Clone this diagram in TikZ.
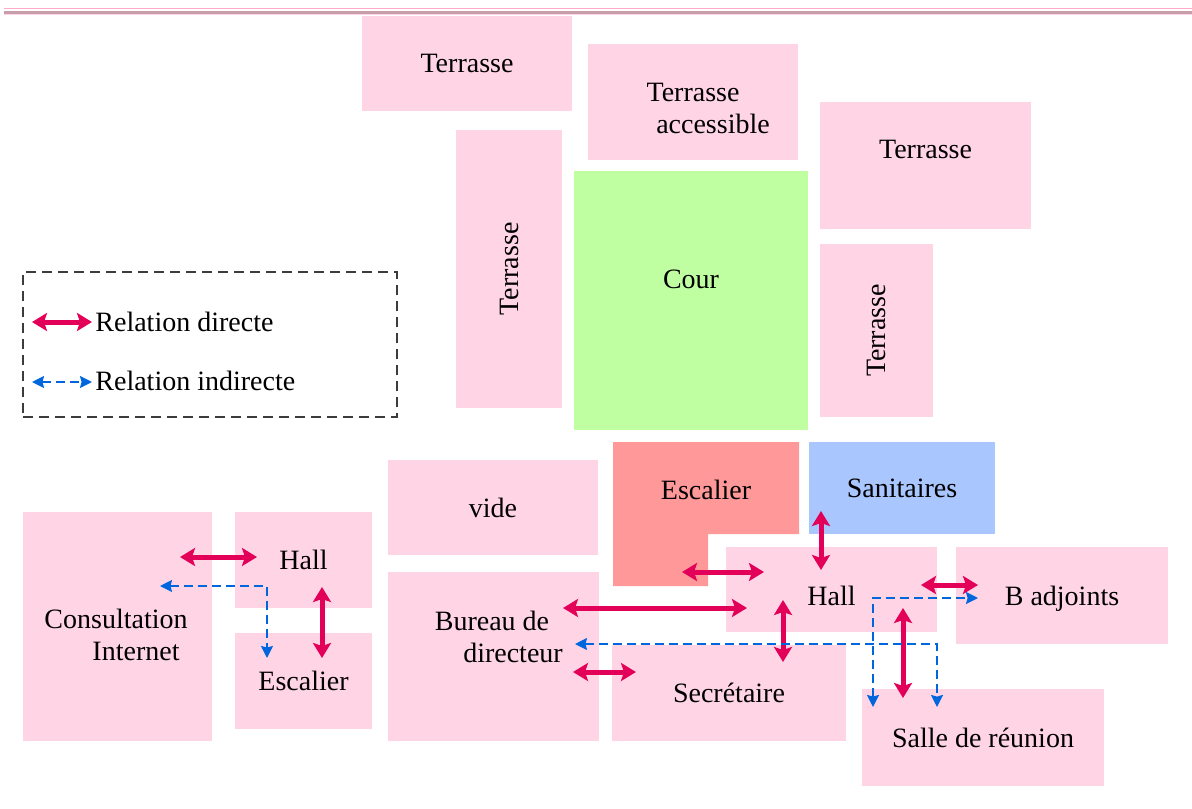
\documentclass[tikz,border=0pt]{standalone}
\usepackage{fontspec}
\setmainfont{Liberation Serif}
\usetikzlibrary{arrows.meta}
\definecolor{roompink}{RGB}{255,213,230}
\definecolor{stairred}{RGB}{255,153,153}
\definecolor{wcblue}{RGB}{169,198,255}
\definecolor{courgreen}{RGB}{191,255,161}
\definecolor{linkred}{RGB}{226,0,88}
\definecolor{linkblue}{RGB}{0,102,221}
\definecolor{rulepink}{RGB}{255,170,200}
\definecolor{rulegray}{RGB}{200,158,170}
\definecolor{legendgray}{RGB}{60,60,60}

\begin{document}
\begin{tikzpicture}[x=0.5pt, y=-0.5pt,
    font=\fontsize{14}{16}\selectfont,
    room/.style={rectangle, fill=roompink, inner sep=0pt, align=center},
    direct/.style={{Stealth[length=7.5pt,width=9pt,inset=1.5pt]}-{Stealth[length=7.5pt,width=9pt,inset=1.5pt]},
                   line width=2.5pt, linkred},
    indirect/.style={{Stealth[length=6pt,width=6pt,inset=0.8pt]}-{Stealth[length=6pt,width=6pt,inset=0.8pt]},
                     line width=1pt, linkblue, dash pattern=on 4.5pt off 2.5pt}
  ]
  \useasboundingbox (0,0) rectangle (1192,808);

  % page rule
  \draw[rulepink, line width=0.5pt] (4,8.5) -- (1192,8.5);
  \draw[rulegray, line width=1.65pt] (4,12.7) -- (1192,12.7);
  \draw[roompink, line width=0.5pt] (4,14.8) -- (1192,14.8);

  % upper floor part
  \node[room, minimum width=105pt, minimum height=47.5pt] (terr1) at (467,63.5) {Terrasse};
  \node[room, minimum width=105pt, minimum height=58pt,
        label={[align=center, yshift=-3pt]center:Terrasse\\\hspace*{20pt}accessible}] (terracc) at (693,102) {};
  \node[room, minimum width=105.5pt, minimum height=63.5pt,
        label={[yshift=8pt]center:Terrasse}] (terr3) at (925.5,165.5) {};
  \node[room, rotate=90, minimum width=139pt, minimum height=53pt] (terrv) at (509,269) {Terrasse};
  \node[room, fill=courgreen, minimum width=117pt, minimum height=129.5pt,
        label={[yshift=10.75pt]center:Cour}] (cour) at (691,300.5) {};
  \node[room, rotate=90, minimum width=86.5pt, minimum height=56.5pt] (terrv2) at (876.5,330.5) {Terrasse};

  % legend
  \node[draw=legendgray, line width=1.2pt, dash pattern=on 5pt off 3pt,
        minimum width=187pt, minimum height=72.5pt] (legend) at (210,344.5) {};
  \coordinate (ld1) at (32,322);
  \coordinate (ld2) at (92,322);
  \coordinate (li1) at (32,382);
  \coordinate (li2) at (92,382);
  \node[anchor=west, inner sep=0pt] (ldtxt) at (95,322) {Relation directe};
  \node[anchor=west, inner sep=0pt] (litxt) at (95,381) {Relation indirecte};
  \draw[direct] (ld1) -- (ld2);
  \draw[indirect] (li1) -- (li2);

  % lower part
  \node[room, minimum width=105pt, minimum height=47.5pt] (vide) at (493,507.5) {vide};
  \fill[stairred] (613,442) -- (799,442) -- (799,534) -- (708,534) -- (708,586) -- (613,586) -- cycle;
  \node (escm) at (706,490) {Escalier};
  \node[room, fill=wcblue, minimum width=93pt, minimum height=46pt] (sanit) at (902,488) {Sanitaires};
  \node[room, minimum width=105.5pt, minimum height=42.5pt,
        label={[yshift=-3pt]center:Hall}] (hallm) at (831.5,589.5) {};
  \node[room, minimum width=106pt, minimum height=48.5pt,
        label={[yshift=-1.5pt]center:B adjoints}] (badj) at (1062,595.5) {};
  \node[room, minimum width=121pt, minimum height=48.5pt] (salle) at (983,737.5) {Salle de r\'eunion};
  \node[room, minimum width=105.5pt, minimum height=84.5pt,
        label={[align=center, yshift=10pt, xshift=-0.75pt]center:Bureau de\\\hspace*{21pt}directeur}] (bureau) at (493.5,656.5) {};
  \node[room, minimum width=117pt, minimum height=48pt] (secr) at (729,693) {Secr\'etaire};
  \node[room, minimum width=94.5pt, minimum height=114.5pt,
        label={[align=center, yshift=-4pt, xshift=-0.75pt]center:Consultation\\\hspace*{20pt}Internet}] (cons) at (117.5,626.5) {};
  \node[room, minimum width=68.5pt, minimum height=48pt] (hallg) at (303.5,560) {Hall};
  \node[room, minimum width=68.5pt, minimum height=48pt] (escg) at (303.5,681) {Escalier};

  % arrow ends
  \coordinate (r1a) at (180,557);  \coordinate (r1b) at (257,557);
  \coordinate (r2a) at (322,587);  \coordinate (r2b) at (322,658);
  \coordinate (r3a) at (682,572);  \coordinate (r3b) at (764,572);
  \coordinate (r4a) at (821,511);  \coordinate (r4b) at (821,570);
  \coordinate (r5a) at (563,608);  \coordinate (r5b) at (747,608);
  \coordinate (r6a) at (783,600);  \coordinate (r6b) at (783,662);
  \coordinate (r7a) at (573,672);  \coordinate (r7b) at (636,672);
  \coordinate (r8a) at (921,585);  \coordinate (r8b) at (978,585);
  \coordinate (r9a) at (903,608);  \coordinate (r9b) at (903,698);
  \coordinate (b1a) at (160,586);  \coordinate (b1b) at (267,658);
  \coordinate (b2a) at (575,644);  \coordinate (b2b) at (937,707);
  \coordinate (b3a) at (873,707);  \coordinate (b3b) at (978,598);

  % relations
  \draw[direct] (r1a) -- (r1b);
  \draw[direct] (r2a) -- (r2b);
  \draw[direct] (r3a) -- (r3b);
  \draw[direct] (r4a) -- (r4b);
  \draw[direct] (r5a) -- (r5b);
  \draw[direct] (r6a) -- (r6b);
  \draw[direct] (r7a) -- (r7b);
  \draw[direct] (r8a) -- (r8b);
  \draw[direct] (r9a) -- (r9b);
  \draw[indirect] (b1a) -| (b1b);
  \draw[indirect] (b2a) -| (b2b);
  \draw[indirect] (b3a) |- (b3b);
\end{tikzpicture}
\end{document}
